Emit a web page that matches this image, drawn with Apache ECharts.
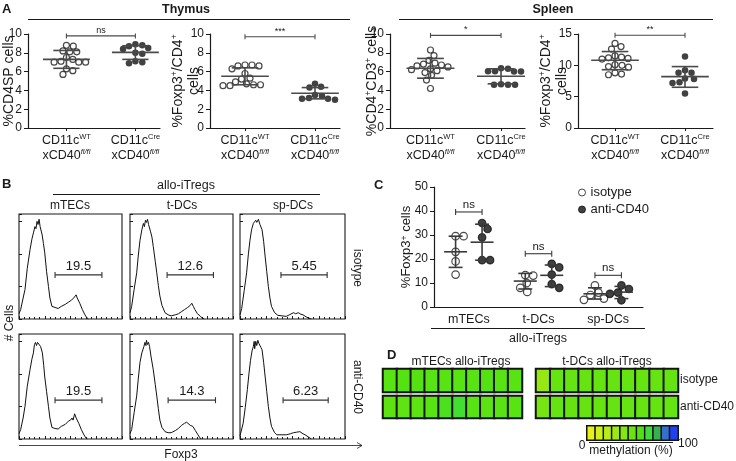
<!DOCTYPE html>
<html><head><meta charset="utf-8">
<script src="https://cdn.jsdelivr.net/npm/echarts@6/dist/echarts.min.js"></script>
<style>html,body{margin:0;padding:0;background:#fff}#c{width:736px;height:461px}</style>
</head><body><div id="c"></div>
<script>
// ================= DATA =================
// Panel A – group labels
const catLine1 = ['CD11c', 'CD11c'];
const catSup1 = ['WT', 'Cre'];
const catLine2 = ['xCD40', 'xCD40'];
const catSup2 = ['fl/fl', 'fl/fl'];

// A1 thymus %CD4SP
const thymusCD4SP_WT  = [8.8, 8.7, 8.2, 8.1, 8.1, 7.5, 7.3, 7.1, 7.0, 7.0, 7.0, 6.3, 6.1, 5.7];
const thymusCD4SP_Cre = [8.9, 8.8, 8.7, 8.5, 8.4, 8.0, 7.9, 7.1, 7.0, 6.9];
const thymusCD4SP_mean = [7.3, 8.05];
const thymusCD4SP_sdLow = [6.35, 7.3];
const thymusCD4SP_sdHigh = [8.25, 8.75];
// A2 thymus %Foxp3+/CD4+
const thymusFoxp3_WT  = [6.7, 6.7, 6.6, 6.6, 6.3, 5.8, 5.3, 5.2, 4.9, 4.7, 4.6, 4.5, 4.5, 4.6];
const thymusFoxp3_Cre = [4.7, 4.4, 4.3, 3.5, 3.4, 3.2, 3.1, 3.0, 3.1];
const thymusFoxp3_mean = [5.5, 3.7];
const thymusFoxp3_sdLow = [4.6, 3.1];
const thymusFoxp3_sdHigh = [6.4, 4.3];
// A3 spleen %CD4+CD3+
const spleenCD4_WT  = [8.3, 7.7, 7.2, 6.9, 6.8, 6.7, 6.6, 6.5, 6.3, 6.2, 6.1, 5.9, 5.6, 5.1, 4.2];
const spleenCD4_Cre = [6.35, 6.3, 6.05, 6.0, 6.0, 6.05, 4.6, 4.6, 4.6, 4.65];
const spleenCD4_mean = [6.35, 5.5];
const spleenCD4_sdLow = [5.3, 4.7];
const spleenCD4_sdHigh = [7.4, 6.3];
// A4 spleen %Foxp3+/CD4+
const spleenFoxp3_WT  = [13.5, 13.0, 12.6, 11.5, 11.3, 11.2, 11.1, 11.0, 10.1, 10.0, 9.8, 9.7, 8.8, 8.6, 8.5];
const spleenFoxp3_Cre = [11.4, 9.2, 8.8, 8.8, 7.9, 7.8, 7.3, 7.2, 5.5];
const spleenFoxp3_mean = [10.8, 8.2];
const spleenFoxp3_sdLow = [9.3, 6.5];
const spleenFoxp3_sdHigh = [12.2, 9.8];
// A significance
const sigA = ['ns', '***', '*', '**'];
const sigAY = [9.8, 9.7, 9.85, 14.8];

// Panel B – histograms [Foxp3 channel (fraction), relative count]
const histMTECsIso = [[0,0.05],[0.016,0.09],[0.04,0.2],[0.058,0.28],[0.08,0.48],[0.107,0.66],[0.125,0.76],[0.14,0.82],[0.155,0.88],[0.165,0.86],[0.175,0.93],[0.185,0.9],[0.195,0.95],[0.205,0.88],[0.215,0.89],[0.225,0.8],[0.237,0.72],[0.25,0.63],[0.268,0.45],[0.286,0.31],[0.3,0.2],[0.32,0.12],[0.35,0.11],[0.38,0.1],[0.41,0.12],[0.45,0.14],[0.48,0.16],[0.51,0.18],[0.53,0.2],[0.545,0.21],[0.555,0.23],[0.565,0.2],[0.575,0.19],[0.59,0.15],[0.615,0.09],[0.64,0.04],[0.66,0.01],[0.675,0]];
const histTDCsIso = [[0,0.06],[0.016,0.12],[0.04,0.28],[0.065,0.44],[0.08,0.6],[0.097,0.75],[0.115,0.85],[0.13,0.91],[0.14,0.88],[0.15,0.94],[0.16,0.92],[0.17,0.95],[0.18,0.9],[0.19,0.91],[0.2,0.83],[0.213,0.78],[0.226,0.69],[0.245,0.55],[0.26,0.44],[0.275,0.32],[0.29,0.22],[0.31,0.13],[0.34,0.06],[0.37,0.04],[0.4,0.03],[0.44,0.04],[0.47,0.05],[0.5,0.07],[0.53,0.09],[0.56,0.11],[0.585,0.13],[0.6,0.15],[0.615,0.12],[0.63,0.09],[0.655,0.05],[0.68,0.03],[0.7,0.01],[0.72,0]];
const histSpDCsIso = [[0,0.04],[0.016,0.1],[0.04,0.27],[0.063,0.44],[0.08,0.62],[0.095,0.75],[0.11,0.85],[0.127,0.91],[0.14,0.9],[0.15,0.94],[0.16,0.92],[0.175,0.95],[0.19,0.9],[0.2,0.91],[0.21,0.85],[0.225,0.74],[0.24,0.59],[0.255,0.45],[0.27,0.31],[0.285,0.2],[0.3,0.12],[0.33,0.06],[0.36,0.035],[0.4,0.03],[0.44,0.025],[0.47,0.04],[0.51,0.06],[0.53,0.05],[0.556,0.06],[0.58,0.045],[0.6,0.04],[0.63,0.02],[0.65,0.01],[0.68,0]];
const histMTECsAnti = [[0,0.05],[0.016,0.09],[0.04,0.2],[0.058,0.31],[0.08,0.5],[0.107,0.66],[0.125,0.76],[0.14,0.82],[0.15,0.9],[0.16,0.92],[0.17,0.89],[0.18,0.92],[0.195,0.905],[0.21,0.88],[0.227,0.82],[0.24,0.7],[0.25,0.59],[0.268,0.45],[0.286,0.31],[0.3,0.2],[0.32,0.11],[0.35,0.1],[0.38,0.095],[0.41,0.12],[0.45,0.14],[0.48,0.17],[0.5,0.18],[0.515,0.2],[0.525,0.18],[0.54,0.24],[0.555,0.2],[0.58,0.15],[0.605,0.09],[0.63,0.04],[0.65,0.01],[0.665,0]];
const histTDCsAnti = [[0,0.05],[0.016,0.09],[0.04,0.25],[0.065,0.41],[0.08,0.57],[0.097,0.73],[0.115,0.82],[0.135,0.88],[0.145,0.92],[0.155,0.89],[0.16,0.94],[0.17,0.9],[0.18,0.92],[0.19,0.88],[0.205,0.78],[0.226,0.66],[0.245,0.52],[0.26,0.41],[0.275,0.29],[0.29,0.18],[0.31,0.11],[0.34,0.07],[0.37,0.06],[0.4,0.06],[0.44,0.08],[0.47,0.1],[0.5,0.13],[0.53,0.15],[0.55,0.16],[0.565,0.16],[0.585,0.13],[0.61,0.12],[0.635,0.08],[0.66,0.04],[0.68,0.01],[0.69,0]];
const histSpDCsAnti = [[0,0.03],[0.03,0.15],[0.05,0.3],[0.07,0.47],[0.085,0.62],[0.1,0.75],[0.115,0.84],[0.127,0.88],[0.135,0.93],[0.14,0.86],[0.15,0.93],[0.16,0.89],[0.17,0.94],[0.18,0.91],[0.19,0.92],[0.2,0.87],[0.21,0.85],[0.225,0.73],[0.24,0.59],[0.255,0.45],[0.27,0.31],[0.285,0.2],[0.3,0.12],[0.33,0.06],[0.35,0.04],[0.4,0.04],[0.44,0.04],[0.48,0.05],[0.51,0.06],[0.54,0.065],[0.57,0.07],[0.6,0.05],[0.62,0.04],[0.65,0.02],[0.68,0]];
const gateLabels = ['19.5', '12.6', '5.45', '19.5', '14.3', '6.23'];
const gateLeft  = [0.35, 0.36, 0.39, 0.35, 0.37, 0.41];
const gateRight = [0.805, 0.81, 0.83, 0.805, 0.83, 0.84];
const gateLevel = [0.42, 0.42, 0.42, 0.37, 0.37, 0.37];
const bColumns = ['mTECs', 't-DCs', 'sp-DCs'];
const bRows = ['isotype', 'anti-CD40'];

// Panel C
const cCategories = ['mTECs', 't-DCs', 'sp-DCs'];
const cIsotype = [[29.5, 29.5, 23.0, 19.0, 13.5], [13.3, 13.1, 10.0, 8.0, 6.3], [9.0, 6.0, 5.0, 3.5, 3.0]];
const cAnti    = [[35.0, 32.5, 29.0, 19.5, 19.5], [18.0, 16.5, 13.5, 9.5, 8.0], [9.0, 7.5, 6.0, 5.5, 2.8]];
const cIsoMean = [23.0, 10.8, 5.5], cIsoLow = [16.5, 7.5, 3.3], cIsoHigh = [29.5, 14.0, 8.0];
const cAntiMean = [27.0, 13.2, 6.2], cAntiLow = [19.5, 8.5, 3.5], cAntiHigh = [34.5, 17.5, 8.6];
const sigC = ['ns', 'ns', 'ns'];
const sigCY = [39.6, 22.2, 13.2];

// Panel D – methylation (%)
const dIsoMTECs  = [57, 58, 58, 57, 57, 57, 57, 58, 57, 57];
const dIsoTDCs   = [33, 52, 52, 52, 52, 52, 52, 52, 52, 52];
const dAntiMTECs = [55, 54, 55, 56, 63, 68, 57, 55, 56, 56];
const dAntiTDCs  = [45, 52, 51, 52, 52, 52, 52, 52, 52, 52];
const colorbarValues = [0, 10, 20, 30, 40, 50, 60, 70, 80, 90, 100];

// ================= CHART =================
const FONT = '"Liberation Sans", Arial, Helvetica, sans-serif';
const INK = '#1a1a1a';
const methylColors = ['#e8f21a','#d2f01a','#b8ee16','#9ee814','#84e612','#6ae410','#50e214','#3ede3a','#3aae52','#3470cc','#2040ee'];

const grids = [], xAxes = [], yAxes = [], series = [];
const axLine = {show: true, onZero: false, lineStyle: {color: INK, width: 1.2}};

function swarm(values, center, pxX, pxY, diam) {
  const order = values.map((v, i) => i).sort((a, b) => values[b] - values[a]);
  const placed = [], out = new Array(values.length);
  order.forEach(i => {
    const py = values[i] * pxY;
    let off = 0;
    for (let k = 0; k < 200; k++) {
      const c = k === 0 ? 0 : (k % 2 ? 1 : -1) * Math.ceil(k / 2) * 0.5;
      const ok = placed.every(p => Math.hypot(p[0] - c, p[1] - py) >= diam);
      if (ok) { off = c; break; }
    }
    placed.push([off, py]);
    out[i] = [center + off / pxX, values[i]];
  });
  return out;
}

function meanSd(halfMean, halfSd, color) {
  return function (params, api) {
    const x = api.value(0), m = api.value(1), lo = api.value(2), hi = api.value(3);
    const L = (a, b) => ({type: 'line', shape: {x1: a[0], y1: a[1], x2: b[0], y2: b[1]}, style: {stroke: color, lineWidth: 1.6}});
    return {type: 'group', children: [
      L(api.coord([x - halfMean, m]), api.coord([x + halfMean, m])),
      L(api.coord([x - halfSd, hi]), api.coord([x + halfSd, hi])),
      L(api.coord([x - halfSd, lo]), api.coord([x + halfSd, lo])),
      L(api.coord([x, hi]), api.coord([x, lo]))
    ]};
  };
}

function bracket(labels, fontSize, tick, color, gap) {
  return function (params, api) {
    const p1 = api.coord([api.value(0), api.value(2)]), p2 = api.coord([api.value(1), api.value(2)]);
    const st = {stroke: color, lineWidth: 1.1};
    return {type: 'group', children: [
      {type: 'line', shape: {x1: p1[0], y1: p1[1], x2: p2[0], y2: p2[1]}, style: st},
      {type: 'line', shape: {x1: p1[0], y1: p1[1] - tick, x2: p1[0], y2: p1[1] + tick}, style: st},
      {type: 'line', shape: {x1: p2[0], y1: p2[1] - tick, x2: p2[0], y2: p2[1] + tick}, style: st},
      {type: 'text', style: {text: labels[params.dataIndex], x: (p1[0] + p2[0]) / 2, y: p1[1] - gap,
        textAlign: 'center', textVerticalAlign: 'bottom', fontSize: fontSize, fontFamily: FONT, fill: INK}}
    ]};
  };
}

// ---------- Panel A ----------
const plotsA = [
  {wt: thymusCD4SP_WT, cre: thymusCD4SP_Cre, mean: thymusCD4SP_mean, lo: thymusCD4SP_sdLow, hi: thymusCD4SP_sdHigh,
   max: 10, interval: 2, name: '%CD4SP cells', gap: 11, grid: {left: 26, top: 34, width: 134, height: 94}, xmin: 0.443, xmax: 2.357},
  {wt: thymusFoxp3_WT, cre: thymusFoxp3_Cre, mean: thymusFoxp3_mean, lo: thymusFoxp3_sdLow, hi: thymusFoxp3_sdHigh,
   max: 10, interval: 2, name: '%Foxp3{s|+}/CD4{s|+}\ncells', gap: 8, grid: {left: 210, top: 34, width: 130, height: 94}, xmin: 0.5, xmax: 2.357},
  {wt: spleenCD4_WT, cre: spleenCD4_Cre, mean: spleenCD4_mean, lo: spleenCD4_sdLow, hi: spleenCD4_sdHigh,
   max: 10, interval: 2, name: '%CD4{s|+}CD3{s|+} cells', gap: 10, grid: {left: 390, top: 34, width: 135, height: 94}, xmin: 0.426, xmax: 2.34},
  {wt: spleenFoxp3_WT, cre: spleenFoxp3_Cre, mean: spleenFoxp3_mean, lo: spleenFoxp3_sdLow, hi: spleenFoxp3_sdHigh,
   max: 15, interval: 5, name: '%Foxp3{s|+}/CD4{s|+}\ncells', gap: 8, grid: {left: 578, top: 34, width: 135, height: 94}, xmin: 0.471, xmax: 2.4}
];
const catRich = {
  a: {fontSize: 12.5, fontFamily: FONT, color: INK, lineHeight: 15},
  s: {fontSize: 7.5, fontFamily: FONT, color: INK, lineHeight: 8, verticalAlign: 'top'},
  i: {fontSize: 7.5, fontFamily: FONT, color: INK, lineHeight: 8, verticalAlign: 'top', fontStyle: 'italic'}
};
const nameRich = {s: {fontSize: 8.5, fontFamily: FONT, color: INK, lineHeight: 9, verticalAlign: 'top'}};

plotsA.forEach((p, gi) => {
  grids.push(p.grid);
  xAxes.push({gridIndex: gi, type: 'value', min: p.xmin, max: p.xmax, axisLine: axLine,
    axisTick: {show: true, customValues: [1, 2], length: 3, lineStyle: {color: INK}},
    axisLabel: {customValues: [1, 2], margin: 5, lineHeight: 15, rich: catRich,
      formatter: v => { const k = Math.round(v) - 1; return '{a|' + catLine1[k] + '}{s|' + catSup1[k] + '}\n{a|' + catLine2[k] + '}{i|' + catSup2[k] + '}'; }},
    splitLine: {show: false}});
  yAxes.push({gridIndex: gi, type: 'value', min: 0, max: p.max, interval: p.interval, axisLine: axLine,
    axisTick: {show: true, length: 4, lineStyle: {color: INK}},
    axisLabel: {fontSize: 12, fontFamily: FONT, color: INK, margin: 6},
    splitLine: {show: false},
    name: p.name, nameLocation: 'middle', nameGap: p.gap, nameMoveOverlap: false,
    nameTextStyle: {fontSize: 14, fontFamily: FONT, color: INK, lineHeight: 16, rich: nameRich}});
  const pxX = p.grid.width / (p.xmax - p.xmin), pxY = p.grid.height / p.max;
  series.push({type: 'scatter', name: 'A' + gi + 'wt', xAxisIndex: gi, yAxisIndex: gi, silent: true, z: 3,
    data: swarm(p.wt, 1, pxX, pxY, 6.6), symbol: 'circle', symbolSize: 6,
    itemStyle: {color: '#fff', borderColor: INK, borderWidth: 1.2}});
  series.push({type: 'scatter', name: 'A' + gi + 'cre', xAxisIndex: gi, yAxisIndex: gi, silent: true, z: 3,
    data: swarm(p.cre, 2, pxX, pxY, 6.6), symbol: 'circle', symbolSize: 6.5,
    itemStyle: {color: '#111'}});
  series.push({type: 'custom', xAxisIndex: gi, yAxisIndex: gi, silent: true, z: 4,
    renderItem: meanSd(0.34, 0.19, '#4a4a4a'),
    data: [[1, p.mean[0], p.lo[0], p.hi[0]], [2, p.mean[1], p.lo[1], p.hi[1]]]});
  series.push({type: 'custom', xAxisIndex: gi, yAxisIndex: gi, silent: true, z: 4,
    renderItem: bracket([sigA[gi]], 9, 2.5, '#4a4a4a', 1),
    data: [[1, 2, sigAY[gi]]]});
});

// ---------- Panel B ----------
const hists = [histMTECsIso, histTDCsIso, histSpDCsIso, histMTECsAnti, histTDCsAnti, histSpDCsAnti];
const bLeft = [19, 130, 240], bWidth = [103, 103, 105], bTop = [214, 334];
hists.forEach((h, k) => {
  const gi = grids.length;
  grids.push({left: bLeft[k % 3], top: bTop[Math.floor(k / 3)], width: bWidth[k % 3], height: 105,
    show: true, borderColor: INK, borderWidth: 1.1});
  xAxes.push({gridIndex: gi, type: 'value', min: 0, max: 1, interval: 0.25,
    axisLine: {show: false}, axisLabel: {show: false}, splitLine: {show: false},
    axisTick: {show: true, inside: true, length: 3, lineStyle: {color: INK}},
    minorTick: {show: true, splitNumber: 5, length: 2, lineStyle: {color: INK}}});
  yAxes.push({gridIndex: gi, type: 'value', min: 0, max: 1, interval: 0.31,
    axisLine: {show: false}, axisLabel: {show: false}, splitLine: {show: false},
    axisTick: {show: true, inside: true, length: 3, lineStyle: {color: INK}}});
  series.push({type: 'line', xAxisIndex: gi, yAxisIndex: gi, data: h, showSymbol: false, silent: true,
    lineStyle: {color: '#111', width: 1}, z: 3});
  series.push({type: 'custom', xAxisIndex: gi, yAxisIndex: gi, silent: true, z: 4,
    renderItem: bracket([gateLabels[k]], 13, 3, '#333', 2),
    data: [[gateLeft[k], gateRight[k], gateLevel[k]]]});
});

// ---------- Panel C ----------
{
  const gi = grids.length;
  const g = {left: 434, top: 187, width: 209, height: 120};
  grids.push(g);
  xAxes.push({gridIndex: gi, type: 'value', min: 0.5, max: 3.5, axisLine: axLine,
    axisTick: {show: false}, splitLine: {show: false},
    axisLabel: {customValues: [1, 2, 3], formatter: v => cCategories[Math.round(v) - 1], fontSize: 12.5, fontFamily: FONT, color: INK, margin: 6}});
  yAxes.push({gridIndex: gi, type: 'value', min: 0, max: 50, interval: 10, axisLine: axLine,
    axisTick: {show: true, length: 4, lineStyle: {color: INK}},
    axisLabel: {fontSize: 12, fontFamily: FONT, color: INK, margin: 6}, splitLine: {show: false},
    name: '%Foxp3{s|+} cells', nameLocation: 'middle', nameGap: 21, nameMoveOverlap: false,
    nameTextStyle: {fontSize: 13, fontFamily: FONT, color: INK, rich: nameRich}});
  const pxX = g.width / 3, pxY = g.height / 50, off = 0.19;
  let isoPts = [], antiPts = [];
  cCategories.forEach((c, k) => {
    isoPts = isoPts.concat(swarm(cIsotype[k], k + 1 - off, pxX, pxY, 8));
    antiPts = antiPts.concat(swarm(cAnti[k], k + 1 + off, pxX, pxY, 8));
  });
  series.push({type: 'scatter', name: 'isotype', xAxisIndex: gi, yAxisIndex: gi, data: isoPts, symbol: 'circle', symbolSize: 7.5,
    itemStyle: {color: '#fff', borderColor: INK, borderWidth: 1.2}, z: 3, silent: true});
  series.push({type: 'scatter', name: 'anti-CD40', xAxisIndex: gi, yAxisIndex: gi, data: antiPts, symbol: 'circle', symbolSize: 7.5,
    itemStyle: {color: '#111', borderColor: '#111', borderWidth: 1.2}, z: 3, silent: true});
  const msData = [];
  cCategories.forEach((c, k) => {
    msData.push([k + 1 - off, cIsoMean[k], cIsoLow[k], cIsoHigh[k]]);
    msData.push([k + 1 + off, cAntiMean[k], cAntiLow[k], cAntiHigh[k]]);
  });
  series.push({type: 'custom', xAxisIndex: gi, yAxisIndex: gi, silent: true, z: 4,
    renderItem: meanSd(0.165, 0.1, '#3a3a3a'), data: msData});
  series.push({type: 'custom', xAxisIndex: gi, yAxisIndex: gi, silent: true, z: 4,
    renderItem: bracket(sigC, 11.5, 3, '#3a3a3a', 1),
    data: cCategories.map((c, k) => [k + 1 - off, k + 1 + off, sigCY[k]])});
}

// ---------- Panel D ----------
const heatIdx = [];
const dRowsData = [dIsoMTECs, dIsoTDCs, dAntiMTECs, dAntiTDCs];
const dGrids = [{left: 383, top: 369, width: 139, height: 23}, {left: 536, top: 369, width: 142, height: 23},
                {left: 383, top: 396, width: 139, height: 22}, {left: 536, top: 396, width: 142, height: 22}];
function addHeat(values, g, bw) {
  const gi = grids.length;
  grids.push(g);
  xAxes.push({gridIndex: gi, type: 'category', data: values.map((v, i) => String(i)), show: false});
  yAxes.push({gridIndex: gi, type: 'category', data: ['r'], show: false});
  heatIdx.push(series.length);
  series.push({type: 'heatmap', xAxisIndex: gi, yAxisIndex: gi, silent: true,
    data: values.map((v, i) => [i, 0, v]),
    itemStyle: {borderColor: '#141414', borderWidth: bw}, emphasis: {disabled: true}});
}
dRowsData.forEach((vals, k) => addHeat(vals, dGrids[k], 2));
addHeat(colorbarValues, {left: 587, top: 426, width: 91, height: 14}, 1.5);

// ---------- texts / decorations ----------
const T = (text, x, y, o = {}) => Object.assign({type: 'text', x: x, y: y, rotation: o.rot || 0, silent: true,
  style: {text: text, x: 0, y: 0, textAlign: o.align || 'center', textVerticalAlign: 'middle',
    fontSize: o.size || 12, fontWeight: o.bold ? 'bold' : 'normal', fontFamily: FONT, fill: INK}});
const Ln = (x1, y1, x2, y2, w) => ({type: 'line', silent: true, shape: {x1, y1, x2, y2}, style: {stroke: INK, lineWidth: w || 1}});

const graphics = [
  T('A', 2, 9, {align: 'left', bold: true, size: 13}),
  T('Thymus', 186, 10, {bold: true, size: 12.5}), Ln(28, 19.5, 350, 19.5),
  T('Spleen', 553, 10, {bold: true, size: 12.5}), Ln(399, 19.5, 713, 19.5),
  T('B', 2, 184, {align: 'left', bold: true, size: 13}),
  T('allo-iTregs', 186, 186, {size: 12.5}), Ln(53, 194.5, 320, 194.5),
  T(bColumns[0], 70, 206), T(bColumns[1], 182, 206), T(bColumns[2], 293, 206),
  T(bRows[0], 357, 268, {rot: -Math.PI / 2}), T(bRows[1], 357, 387, {rot: -Math.PI / 2}),
  T('# Cells', 10, 323, {rot: Math.PI / 2}),
  Ln(19, 445.5, 362, 445.5, 0.8),
  {type: 'polyline', silent: true, shape: {points: [[357, 442.5], [362, 445.5], [357, 448.5]]}, style: {stroke: INK, fill: null, lineWidth: 0.8}},
  T('Foxp3', 181, 455),
  T('C', 374, 185, {align: 'left', bold: true, size: 13}),
  Ln(431, 328.5, 645, 328.5), T('allo-iTregs', 538, 339, {size: 12.5}),
  T('D', 387, 355, {align: 'left', bold: true, size: 13}),
  T('mTECs allo-iTregs', 461, 362, {size: 12}), T('t-DCs allo-iTregs', 607, 362, {size: 12}),
  T(bRows[0], 680, 380, {align: 'left', size: 12}), T(bRows[1], 680, 407, {align: 'left', size: 12}),
  T('0', 582, 446, {size: 12}), T('100', 688, 444, {size: 12}),
  Ln(589, 442.5, 673, 442.5), T('methylation (%)', 631, 451, {size: 12})
];

const option = {
  animation: false,
  backgroundColor: '#fff',
  textStyle: {fontFamily: FONT},
  grid: grids.map(g => Object.assign({containLabel: false}, g)),
  xAxis: xAxes,
  yAxis: yAxes,
  legend: {data: ['isotype', 'anti-CD40'], orient: 'vertical', left: 573, top: 181, itemGap: 4,
    itemWidth: 7, itemHeight: 7, icon: 'circle', selectedMode: false,
    itemStyle: {borderWidth: 1},
    textStyle: {fontSize: 13, fontFamily: FONT, color: INK}},
  visualMap: {type: 'continuous', show: false, min: 0, max: 100, seriesIndex: heatIdx,
    inRange: {color: methylColors}},
  graphic: {elements: graphics},
  series: series
};
const chart = echarts.init(document.getElementById('c'), null, {renderer: 'canvas', width: 736, height: 461});
chart.setOption(option);
</script></body></html>
